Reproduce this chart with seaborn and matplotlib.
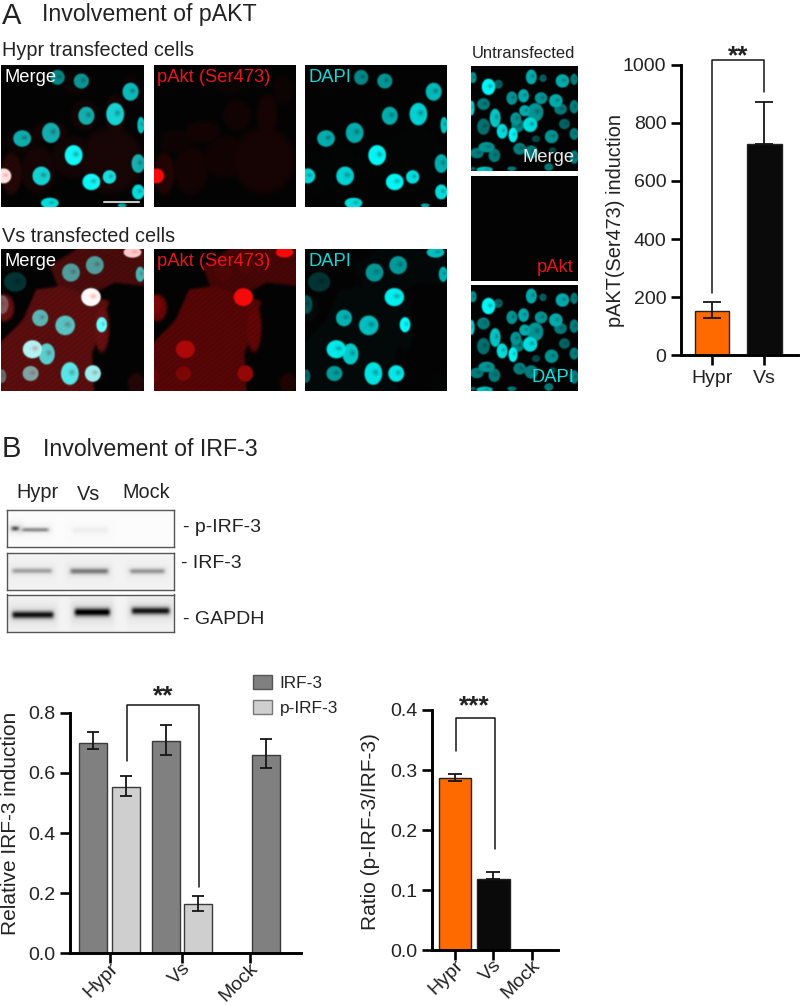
import numpy as np
import pandas as pd
import matplotlib
matplotlib.use("Agg")
import matplotlib.pyplot as plt
from matplotlib.patches import Patch
from matplotlib.path import Path
import seaborn as sns

sns.set_style("ticks")
plt.rcParams['font.family'] = ['Liberation Sans', 'DejaVu Sans']

W, H = 800, 1005
INK = '#222222'
ORANGE, BLACK = '#ff6a00', '#0a0a0a'
DARK, LIGHT = '#808080', '#cfcfcf'

# ---- bar chart values -------------------------------------------------
akt_cats = ['Hypr', 'Vs']
akt_vals = [152, 727]
akt_low = [128, 727]
akt_high = [185, 872]

irf_groups = ['Hypr', 'Vs', 'Mock']
irf_total = [0.70, 0.706, 0.659]
irf_total_low = [0.678, 0.661, 0.617]
irf_total_high = [0.736, 0.76, 0.711]
irf_phos = [0.554, 0.164]
irf_phos_low = [0.524, 0.142]
irf_phos_high = [0.59, 0.192]

ratio_cats = ['Hypr', 'Vs', 'Mock']
ratio_vals = [0.286, 0.119, 0.0]
ratio_low = [0.281, 0.119, 0.0]
ratio_high = [0.293, 0.131, 0.0]

# ---- microscopy fields: centre x, y, half sizes, cyan, red
hypr_nuclei = [
    (150,232,16,20,.55,0),(212,243,17,20,.6,0),(340,275,18,24,.75,0),(225,347,18,24,.7,0),
    (300,342,20,30,.85,0),(367,375,8,22,.8,0),(133,398,20,27,.7,0),(58,415,20,22,.7,0),
    (192,465,20,27,1,0),(108,527,20,25,.85,0),(360,490,15,25,.7,0),(238,545,20,22,1,0),
    (285,530,15,18,.9,0),(10,527,17,20,.8,1),(360,575,14,20,.9,0),(130,608,20,14,.9,0),
    (318,615,10,5,.7,0)]
hypr_cells = [
    (30,520,30,70,.16),(100,510,50,80,.09),(190,470,60,70,.08),(290,480,90,110,.1),
    (220,345,40,50,.08),(300,345,30,70,.1),(130,395,50,35,.08),(340,270,30,50,.05),
    (60,425,50,40,.06),(200,250,40,40,.05)]
vs_nuclei = [
    (345,760,20,14,.7,1),(185,820,20,24,.6,.3),(247,798,20,24,.6,.3),(365,825,10,20,.7,.2),
    (40,848,25,26,.2,0),(237,893,22,24,.9,1),(5,915,15,25,.3,.5),(105,955,18,22,.7,.3),
    (170,977,22,26,.75,.2),(265,975,12,20,1,.3),(85,1048,22,24,.9,.7),(122,1062,18,28,.8,.3),
    (80,1120,18,20,.6,.5),(182,1120,20,30,.9,.25),(242,1120,18,22,.9,.6),(5,1128,10,18,.4,.4)]
vs_cells = [(12,925,28,45,.5),(265,985,22,80,.48),(355,1150,25,35,.15)]
vs_outline_main = [(0,1172),(0,1030),(60,960),(95,870),(160,860),(210,880),(285,905),
                   (260,1000),(240,1060),(245,1172)]
vs_outline_top = [(130,800),(200,750),(375,750),(375,860),(300,850),(265,870),(210,880),(150,860)]
un_nuclei = [
    (1275,258,15,22,1),(1235,230,8,15,.6),(1385,228,12,20,.7),(1465,240,15,18,.7),(1415,232,8,10,.4),
    (1300,250,10,12,.4),(1335,292,12,18,.6),(1365,285,12,18,.7),(1410,292,14,16,.6),(1448,300,15,18,.7),
    (1495,235,8,15,.5),(1262,310,14,16,.5),(1232,322,6,20,.9),(1292,352,12,25,.8),(1262,378,14,22,.45),
    (1345,355,12,18,.6),(1368,330,12,15,.7),(1395,335,18,25,.6),(1350,375,14,18,.5),(1382,372,16,20,.9),
    (1310,392,12,20,.9),(1338,403,10,20,1),(1460,325,14,15,.5),(1495,318,10,18,.5),(1470,370,12,14,.4),
    (1495,400,10,16,.5),(1437,408,15,18,.6),(1397,415,9,9,.3),(1270,440,18,14,.6),(1245,458,15,14,.5),
    (1290,465,13,18,.5),(1355,445,14,16,.5),(1385,455,15,18,.5),(1440,450,8,8,.3),(1495,470,10,18,.5),
    (1265,508,18,8,.8),(1335,505,10,6,.5),(1235,505,6,5,.4),(1430,500,10,10,.5)]

# ---- western blot bands: x from, x to, y, thickness, darkness
blot_phos = [(28,60,297,6,.75),(60,150,301,5,.5),(210,330,302,10,.05)]
blot_total = [(30,160,422,7,.35),(205,330,423,8,.5),(385,500,423,7,.4)]
blot_gapdh = [(30,165,555,10,.92),(218,335,547,11,1),(390,515,543,10,.9)]

fig = plt.figure(figsize=(W/100, H/100), dpi=100, facecolor='white')


def px_axes(x0, y0, x1, y1):
    return fig.add_axes([x0/W, 1-y1/H, (x1-x0)/W, (y1-y0)/H])


def label(x, y, s, size=14.3, color=INK, ha='left', **kw):
    fig.text(x/W, 1-y/H, s, fontsize=size, color=color, ha=ha, va='center', **kw)


def blur(a, s):
    k = np.exp(-0.5*(np.arange(-3*s, 3*s+1)/s)**2)
    k /= k.sum()
    a = np.apply_along_axis(lambda v: np.convolve(np.pad(v, len(k)//2, mode='edge'), k, 'valid'), 0, a)
    a = np.apply_along_axis(lambda v: np.convolve(np.pad(v, len(k)//2, mode='edge'), k, 'valid'), 1, a)
    return a


def field(bounds, n, nuclei, cells=(), outlines=()):
    X0, X1, Y0, Y1 = bounds
    xs = X0 + (np.arange(n)+.5)/n*(X1-X0)
    ys = Y0 + (np.arange(n)+.5)/n*(Y1-Y0)
    gx, gy = np.meshgrid(xs, ys)
    cy = np.zeros_like(gx)
    red = np.zeros_like(gx)
    for poly, lev in outlines:
        m = Path(poly).contains_points(np.c_[gx.ravel(), gy.ravel()]).reshape(gx.shape)
        red = np.maximum(red, m*lev)
    for x, y, a, b, lev in cells:
        red = np.maximum(red, np.clip((1-((gx-x)/a)**2-((gy-y)/b)**2)*2.5, 0, 1)*lev)
    red = blur(red, 2)
    grain = 0.8+0.2*np.sin(gx*1.3)*np.sin(gy*1.15)+0.08*np.sin(gx*.37+gy*.41)
    red = red*grain
    for nuc in nuclei:
        x, y, a, b, c = nuc[:5]
        a, b = a*1.22, b*1.18
        r = nuc[5] if len(nuc) > 5 else 0
        m = np.clip((1-((gx-x)/a)**2-((gy-y)/b)**2)*5, 0, 1)
        hole = 1-0.3*np.exp(-(((gx-x-a*.25)/(a*.3))**2+((gy-y+b*.1)/(b*.25))**2))
        cy = np.maximum(cy, m*c*hole)
        red = np.maximum(red, m*r)
    return blur(cy, 1), blur(red, 1)


def show(rect, cy, red, mode):
    ax = px_axes(*rect)
    if mode == 'merge':
        rgb = np.dstack([red, cy*.95+red*.12, cy*.95+red*.12])
    elif mode == 'red':
        rgb = np.dstack([red*.95, red*.03, red*.03])
    else:
        rgb = np.dstack([red*0, cy*.95+red*.07, cy*.95+red*.07])
    ax.imshow(np.clip(rgb+0.012, 0, 1), aspect='auto', interpolation='bilinear')
    ax.axis('off')
    return ax


# ---- panel A images
cols = [(1, 144), (153.5, 295.5), (305, 447)]
modes = ['merge', 'red', 'dapi']
h_c, h_r = field((3, 375, 195, 620), 284, hypr_nuclei, hypr_cells)
v_c, v_r = field((3, 375, 750, 1172), 284, vs_nuclei, vs_cells,
                 [(vs_outline_main, .42), (vs_outline_top, .34)])
for (x0, x1), m in zip(cols, modes):
    a = show((x0, 65, x1, 207), h_c, h_r, m)
    if m == 'merge':
        a.plot([.72, .965], [.035, .035], color='#c8c8c8', lw=1.5, transform=a.transAxes)
    show((x0, 249, x1, 391), v_c, v_r, m)
u_c, u_r = field((1230, 1505, 195, 512), 214, un_nuclei)
show((471, 66, 578, 171), u_c, u_r, 'merge')
show((471, 176, 578, 281), u_c*0, u_r, 'red')
show((471, 285, 578, 391), u_c, u_r, 'dapi')

for y in (77, 262):
    label(5, y, 'Merge', 13.2, 'white')
    label(157, y, 'pAkt (Ser473)', 13.2, '#e8141c')
    label(309, y, 'DAPI', 13.2, '#12d8d8')
label(575, 158, 'Merge', 13.2, '#e8e8e8', ha='right')
label(574, 268, 'pAkt', 13.2, '#e8141c', ha='right')
label(574, 378, 'DAPI', 13.2, '#12e0e0', ha='right')

label(2, 16, 'A', 21)
label(42, 15, 'Involvement of pAKT', 16.7)
label(2, 50, 'Hypr transfected cells')
label(2, 237, 'Vs transfected cells')
label(472, 53, 'Untransfected', 11.9)
label(2, 449, 'B', 21)
label(43, 450, 'Involvement of IRF-3', 16.7)

# ---- panel B blots
for rect, bands, bg, rng in [((7, 509.5, 174, 546.5), blot_phos, .985, (238, 350)),
                             ((7, 553, 174, 590), blot_total, .95, (368, 480)),
                             ((7, 594.5, 174, 632), blot_gapdh, .95, (493, 606))]:
    ax = px_axes(*rect)
    gx, gy = np.meshgrid(np.linspace(20, 522, 334), np.linspace(rng[0], rng[1], 76))
    img = np.full_like(gx, bg)
    for x0, x1, yc, t, d in bands:
        xprof = np.clip((gx-x0)/12, 0, 1)*np.clip((x1-gx)/12, 0, 1)
        img -= d*bg*xprof*np.exp(-((gy-yc)/t)**2)
        img -= 0.1*d*bg*np.clip((gx-x0+14)/14, 0, 1)*np.clip((x1-gx+14)/14, 0, 1)*np.exp(-((gy-yc)/(t*3.2))**2)
    img = blur(img, 2)
    ax.imshow(np.clip(img, 0, 1), cmap='gray', vmin=0, vmax=1, aspect='auto')
    ax.set_xticks([])
    ax.set_yticks([])
    for s in ax.spines.values():
        s.set_color('#555555')
        s.set_linewidth(1.0)
label(16, 492, 'Hypr')
label(77, 494, 'Vs')
label(122, 493, 'Mock')
label(183, 527, '- p-IRF-3', 14)
label(181, 564, '- IRF-3', 14)
label(183, 619, '- GAPDH', 14)


def style(ax, yticks, ylabels, xticks, xlabels, ylab, ylab_x, ylab_y, rot):
    ax.set_yticks(yticks, ylabels)
    ax.set_xticks(xticks, xlabels)
    ax.tick_params(axis='both', length=7.2, width=1.9, color='black', labelcolor=INK,
                   labelsize=14, pad=3.4)
    ax.set_xlabel('')
    ax.set_ylabel(ylab, fontsize=15, color=INK, va='center')
    box = ax.get_position()
    ax.yaxis.set_label_coords((ylab_x/W-box.x0)/box.width, ((1-ylab_y/H)-box.y0)/box.height)
    for s in ('left', 'bottom'):
        ax.spines[s].set_linewidth(2.1)
        ax.spines[s].set_color('black')
    sns.despine(ax=ax)
    if rot:
        ax.tick_params(axis='x', pad=-2.4)
        for t in ax.get_xticklabels():
            t.set_rotation(45)
            t.set_ha('right')
            t.set_rotation_mode('anchor')
            t.set_va('top')


def errs(ax, x, v, lo, hi, cap):
    ax.errorbar(x, v, yerr=[np.array(v)-np.array(lo), np.array(hi)-np.array(v)], fmt='none',
                ecolor='#151515', elinewidth=1.3, capsize=cap, capthick=1.3, zorder=5)


def bracket(ax, x0, x1, y0, y1, top, stars, sx, sy, size=19):
    ax.plot([x0, x0, x1, x1], [y0, top, top, y1], color='#151515', lw=1.1, clip_on=False, zorder=6)
    ax.text(sx, sy, stars, ha='center', va='center', fontsize=size, fontweight='bold',
            color=INK, clip_on=False)


# ---- A bar chart
ax = px_axes(681, 64.7, 798, 355.3)
df = pd.DataFrame({'group': akt_cats, 'value': akt_vals})
sns.barplot(df, x='group', y='value', hue='group', palette=[ORANGE, BLACK], width=.65, saturation=1,
            edgecolor='#222222', linewidth=1, legend=False, errorbar=None, ax=ax)
errs(ax, [0, 1], akt_vals, akt_low, akt_high, 6.2)
ax.set_xlim(-.59, 1.638)
ax.set_ylim(0, 1000)
style(ax, [0, 200, 400, 600, 800, 1000], ['0', '200', '400', '600', '800', '1000'],
      [0, 1], akt_cats, 'pAKT(Ser473) induction', 615, 220.7, False)
ax.yaxis.label.set_fontsize(14.3)
bracket(ax, 0, 1, 214, 907, 1016, '**', .5, 1030)

# ---- B grouped bars
ax = px_axes(70, 712.7, 301, 953.3)
group_pos = [0, 1, 1.93]
palette = {'IRF-3': DARK, 'p-IRF-3': LIGHT}
df = pd.DataFrame({'pos': group_pos[:2]*2, 'series': ['IRF-3']*2+['p-IRF-3']*2,
                   'value': irf_total[:2]+irf_phos})
common = dict(x='pos', y='value', hue='series', native_scale=True, dodge=True, width=.888, gap=.135,
              palette=palette, saturation=1, edgecolor='#3a3a3a', linewidth=1, legend=False,
              errorbar=None, ax=ax)
sns.barplot(df, hue_order=['IRF-3', 'p-IRF-3'], **common)
mock = pd.DataFrame({'pos': group_pos[2:], 'series': ['IRF-3'], 'value': irf_total[2:]})
sns.barplot(mock, hue_order=['p-IRF-3', 'IRF-3'], **common)
centres = sorted(p.get_x()+p.get_width()/2 for p in ax.patches if p.get_height() > 0)
order_v = [irf_total[0], irf_phos[0], irf_total[1], irf_phos[1], irf_total[2]]
order_l = [irf_total_low[0], irf_phos_low[0], irf_total_low[1], irf_phos_low[1], irf_total_low[2]]
order_h = [irf_total_high[0], irf_phos_high[0], irf_total_high[1], irf_phos_high[1], irf_total_high[2]]
errs(ax, centres, order_v, order_l, order_h, 4.4)
ax.set_xlim(-.545, 2.64)
ax.set_ylim(0, .8)
style(ax, [0, .2, .4, .6, .8], ['0.0', '0.2', '0.4', '0.6', '0.8'],
      group_pos, irf_groups, 'Relative IRF-3 induction', 11, 823, True)
bracket(ax, .237, 1.234, .64, .222, .825, '**', .74, .853)
fig.legend(handles=[Patch(facecolor=DARK, edgecolor='#555555', label='IRF-3'),
                    Patch(facecolor=LIGHT, edgecolor='#777777', label='p-IRF-3')],
           loc='upper left', bbox_to_anchor=(253/W, 1-675/H), frameon=False, fontsize=12.4,
           labelcolor=INK, borderpad=0, borderaxespad=0, handlelength=1.1, handleheight=.87,
           handletextpad=.46, labelspacing=.55)

# ---- B ratio bars
ax = px_axes(432.3, 710, 557.7, 950.3)
df = pd.DataFrame({'group': ratio_cats, 'value': ratio_vals})
sns.barplot(df, x='group', y='value', hue='group', palette=[ORANGE, BLACK, BLACK], width=.85,
            saturation=1, edgecolor='#222222', linewidth=1, legend=False, errorbar=None, ax=ax)
errs(ax, [0, 1], ratio_vals[:2], ratio_low[:2], ratio_high[:2], 5)
ax.set_xlim(-.593, 2.68)
ax.set_ylim(0, .4)
style(ax, [0, .1, .2, .3, .4], ['0.0', '0.1', '0.2', '0.3', '0.4'],
      [0, 1, 2], ratio_cats, 'Ratio (p-IRF-3/IRF-3)', 370, 832, True)
bracket(ax, .02, 1.04, .331, .168, .386, '***', .5, .406)

fig.savefig('out.png', dpi=100)
